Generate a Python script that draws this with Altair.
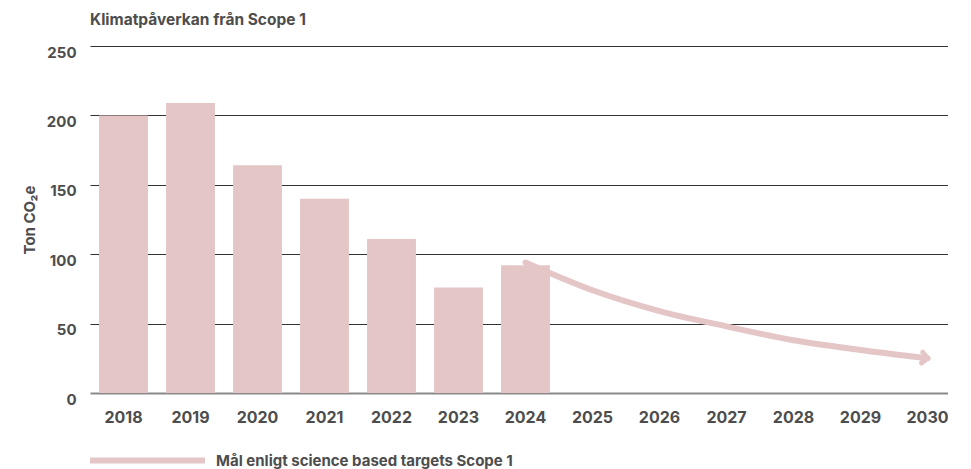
import altair as alt
import pandas as pd

years = [str(y) for y in range(2018, 2031)]
bar_years = ["2018", "2019", "2020", "2021", "2022", "2023", "2024"]
emissions = [200, 209, 164, 140, 111, 76, 92]
target_years = ["2024", "2025", "2026", "2027", "2028", "2029", "2030"]
target = [94, 74, 59, 48, 38, 31, 25]
y_ticks = [0, 50, 100, 150, 200, 250]

series_name = "Mål enligt science based targets Scope 1"
PINK = "#e5c6c7"
TXT = "#4d4d4d"
FONT = "Inter"

bars_df = pd.DataFrame({"year": bar_years, "value": emissions})
line_df = pd.DataFrame({"year": target_years, "value": target, "series": series_name})
arrow_df = line_df.tail(1)

x = alt.X("year:N", scale=alt.Scale(domain=years, range=[0, 871], paddingInner=0.27, paddingOuter=0.135),
          axis=alt.Axis(title=None, labelAngle=0, labelPadding=16, labelFontSize=16,
                        labelFontWeight="bold", labelColor=TXT, labelFont=FONT,
                        domain=False, ticks=False, grid=False))
y = alt.Y("value:Q", scale=alt.Scale(domain=[0, 250], nice=False),
          axis=alt.Axis(title="Ton CO₂e", values=y_ticks, titleFontSize=15,
                        titleFontWeight="bold", titleColor=TXT, titleFont=FONT,
                        titlePadding=9, labelFontSize=15, labelFontWeight="bold",
                        labelColor=TXT, labelFont=FONT, labelPadding=14, labelOffset=6,
                        domain=False, ticks=False,
                        gridColor={"condition": {"test": "datum.value === 0", "value": "#8a8a8a"}, "value": "#333333"},
                        gridWidth={"condition": {"test": "datum.value === 0", "value": 2}, "value": 1}))

bars = alt.Chart(bars_df).mark_bar(color=PINK).encode(x=x, y=y)

line = alt.Chart(line_df).mark_line(strokeWidth=6, interpolate="monotone", strokeCap="round").encode(
    x=alt.X("year:N", scale=alt.Scale(domain=years)),
    y="value:Q",
    color=alt.Color("series:N", scale=alt.Scale(range=[PINK]),
                    legend=alt.Legend(title=None, orient="none", legendX=-3, legendY=354,
                                      symbolType="stroke", symbolSize=13225,
                                      symbolStrokeWidth=6, labelFontSize=15,
                                      labelFontWeight="bold", labelColor=TXT,
                                      labelFont=FONT, labelOffset=8, labelLimit=500)),
)

arrow = alt.Chart(arrow_df).mark_point(
    shape="M-1,-1L0,0L-1,1", size=120, filled=False, strokeWidth=5,
    color=PINK, angle=7, strokeCap="round", opacity=1
).encode(x=alt.X("year:N", scale=alt.Scale(domain=years)), y="value:Q")

chart = alt.layer(bars, line, arrow).properties(
    width=858, height=347,
    title=alt.TitleParams("Klimatpåverkan från Scope 1", anchor="start", frame="group",
                          fontSize=15.5, fontWeight="bold", color=TXT, font=FONT, offset=17),
    autosize=alt.AutoSizeParams(type="none"),
    padding={"left": 82, "top": 38, "right": 0, "bottom": 76},
).configure_view(stroke=None)

chart.save("out.html", embed_options={"renderer": "svg", "actions": False})
